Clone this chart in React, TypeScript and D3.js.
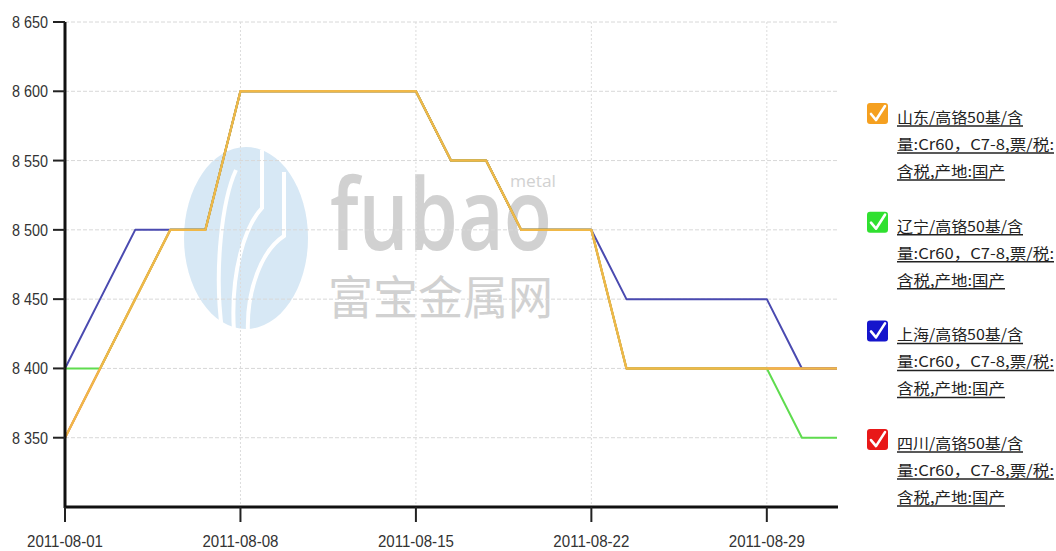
import React from "react";
import * as d3 from "d3";

const W = 1056;
const H = 551;

const dates = [
  "2011-08-01", "2011-08-02", "2011-08-03", "2011-08-04", "2011-08-05",
  "2011-08-08", "2011-08-09", "2011-08-10", "2011-08-11", "2011-08-12",
  "2011-08-15", "2011-08-16", "2011-08-17", "2011-08-18", "2011-08-19",
  "2011-08-22", "2011-08-23", "2011-08-24", "2011-08-25", "2011-08-26",
  "2011-08-29", "2011-08-30", "2011-08-31",
];

const xTickLabels = ["2011-08-01", "2011-08-08", "2011-08-15", "2011-08-22", "2011-08-29"];
const yTickValues = [8350, 8400, 8450, 8500, 8550, 8600, 8650];

const shandong = [8350, 8400, 8450, 8500, 8500, 8600, 8600, 8600, 8600, 8600, 8600, 8550, 8550, 8500, 8500, 8500, 8400, 8400, 8400, 8400, 8400, 8400, 8400];
const liaoning = [8400, 8400, 8450, 8500, 8500, 8600, 8600, 8600, 8600, 8600, 8600, 8550, 8550, 8500, 8500, 8500, 8400, 8400, 8400, 8400, 8400, 8350, 8350];
const shanghai = [8400, 8450, 8500, 8500, 8500, 8600, 8600, 8600, 8600, 8600, 8600, 8550, 8550, 8500, 8500, 8500, 8450, 8450, 8450, 8450, 8450, 8400, 8400];
const sichuan = [8350, 8400, 8450, 8500, 8500, 8600, 8600, 8600, 8600, 8600, 8600, 8550, 8550, 8500, 8500, 8500, 8400, 8400, 8400, 8400, 8400, 8400, 8400];

const seriesNames = [
  "山东/高铬50基/含量:Cr60，C7-8,票/税:含税,产地:国产",
  "辽宁/高铬50基/含量:Cr60，C7-8,票/税:含税,产地:国产",
  "上海/高铬50基/含量:Cr60，C7-8,票/税:含税,产地:国产",
  "四川/高铬50基/含量:Cr60，C7-8,票/税:含税,产地:国产",
];
const lineColors = ["#f0b848", "#5fdc4f", "#4a4ab0", "#e03030"];
const boxColors = ["#f5a020", "#30e030", "#1515cc", "#e81818"];

// draw order: bottom first, orange on top
const drawOrder = [3, 2, 1, 0];
const seriesValues = [shandong, liaoning, shanghai, sichuan];

const M = { left: 65, right: 837, top: 22, bottom: 507 };

export default function App() {
  const x = d3.scalePoint<string>().domain(dates).range([M.left, M.right]);
  const y = d3.scaleLinear().domain([8300, 8650]).range([M.bottom, M.top]);
  const fmt = d3.formatLocale({ decimal: ".", thousands: " ", grouping: [3], currency: ["", ""] }).format(",d");
  const line = d3
    .line<number>()
    .x((_, i) => x(dates[i]) as number)
    .y((d) => y(d));

  const splitName = (s: string) => [s.slice(0, 10), s.slice(10, 26), s.slice(26)];
  const lineWidths = [126, 157, 108];

  return (
    <div style={{ position: "absolute", left: 0, top: 0 }}>
      <svg width={W} height={H} style={{ display: "block", background: "#fff" }}>
        {/* watermark */}
        <g opacity={0.9}>
          <ellipse cx={246} cy={238} rx={62} ry={91} fill="#d3e6f4" />
          <path d="M222,330 C214,270 222,200 236,170" stroke="#fff" strokeWidth={4} fill="none" />
          <path d="M234,332 C230,270 246,225 262,208 L262,150" stroke="#fff" strokeWidth={4} fill="none" />
          <path d="M248,334 C246,290 262,250 284,236 L284,172" stroke="#fff" strokeWidth={4} fill="none" />
          <text x={330} y={250} fontFamily="'Open Sans', 'DejaVu Sans', sans-serif" fontWeight={600} fontSize={100} fill="#cdcdcd" textLength={222} lengthAdjust="spacingAndGlyphs">fubao</text>
          <text x={510} y={187} fontFamily="'Open Sans', sans-serif" fontSize={17} fill="#cdcdcd" textLength={46} lengthAdjust="spacingAndGlyphs">metal</text>
          <text x={328} y={314} fontFamily="'Noto Sans CJK SC', sans-serif" fontSize={46} fill="#cdcdcd" textLength={225} lengthAdjust="spacingAndGlyphs">富宝金属网</text>
        </g>

        {/* grid */}
        {yTickValues.map((v) => (
          <line key={"gy" + v} x1={M.left} x2={M.right} y1={y(v)} y2={y(v)} stroke="#d8d8d8" strokeWidth={1} strokeDasharray="4,2" />
        ))}
        {xTickLabels.map((d) => (
          <line key={"gx" + d} x1={x(d)} x2={x(d)} y1={M.top} y2={M.bottom} stroke="#dcdcdc" strokeWidth={1} strokeDasharray="2,2" />
        ))}

        {/* lines */}
        {drawOrder.map((i) => (
          <path key={"s" + i} d={line(seriesValues[i]) || ""} fill="none" stroke={lineColors[i]} strokeWidth={i === 0 ? 2.4 : 2} strokeLinejoin="round" />
        ))}

        {/* axes */}
        <line x1={M.left} x2={M.left} y1={M.top} y2={M.bottom + 1} stroke="#111" strokeWidth={3} />
        <line x1={M.left} x2={M.right + 1} y1={M.bottom} y2={M.bottom} stroke="#111" strokeWidth={3} />
        {yTickValues.map((v) => (
          <g key={"ty" + v}>
            <line x1={M.left - 12} x2={M.left} y1={y(v)} y2={y(v)} stroke="#222" strokeWidth={2} />
            <text x={48} y={y(v) + 6} textAnchor="end" fontFamily="'Liberation Sans', Arial, sans-serif" fontSize={16} fill="#333" textLength={36} lengthAdjust="spacingAndGlyphs">{fmt(v)}</text>
          </g>
        ))}
        {xTickLabels.map((d) => (
          <g key={"tx" + d}>
            <line x1={x(d)} x2={x(d)} y1={M.bottom} y2={M.bottom + 15} stroke="#222" strokeWidth={2} />
            <text x={(x(d) as number) - 38} y={547} fontFamily="'Liberation Sans', Arial, sans-serif" fontSize={17} fill="#333" textLength={76} lengthAdjust="spacingAndGlyphs">{d}</text>
          </g>
        ))}

        {/* legend */}
        {seriesNames.map((name, i) => {
          const oy = 103 + i * 108.7;
          const lines = splitName(name);
          return (
            <g key={"lg" + i}>
              <rect x={867} y={oy} width={21} height={21} rx={3} fill={boxColors[i]} />
              <path d={`M${871},${oy + 11} L${876},${oy + 17} L${885},${oy + 3}`} stroke="#fff" strokeWidth={2.6} fill="none" strokeLinecap="round" strokeLinejoin="round" />
              {lines.map((t, k) => (
                <g key={k}>
                  <text x={897} y={oy + 20 + k * 27} fontFamily="'Noto Sans CJK SC', sans-serif" fontSize={15} fill="#222" textLength={lineWidths[k]} lengthAdjust="spacingAndGlyphs">{t}</text>
                  <line x1={897} x2={897 + lineWidths[k]} y1={oy + 23 + k * 27} y2={oy + 23 + k * 27} stroke="#222" strokeWidth={1.5} />
                </g>
              ))}
            </g>
          );
        })}
      </svg>
    </div>
  );
}
